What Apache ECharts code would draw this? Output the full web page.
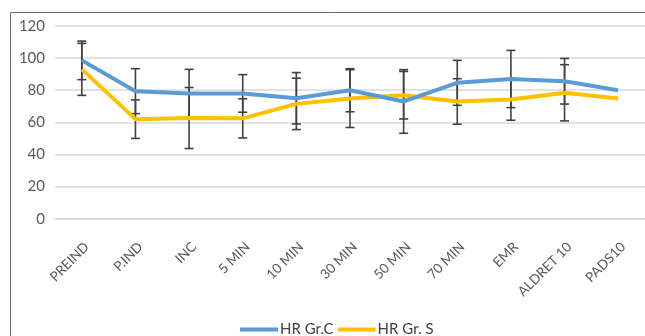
<!DOCTYPE html>
<html><head><meta charset="utf-8">
<script src="https://cdn.jsdelivr.net/npm/echarts@6/dist/echarts.min.js"></script>
<style>html,body{margin:0;padding:0;background:#fff}#c{width:645px;height:336px}</style>
</head><body><div id="c"></div>
<script>
const categories = ['PREIND','P.IND','INC','5 MIN','10 MIN','30 MIN','50 MIN','70 MIN','EMR','ALDRET 10','PADS10'];
const hrC = [98.6, 79.4, 78, 78, 75, 80, 73, 84.6, 87, 85.6, 80];
const hrCsd = [12, 14, 15, 11.7, 16, 13.4, 19.8, 14, 17.8, 14.2, null];
const hrS = [93, 62, 62.7, 62.5, 71.5, 74.8, 76.9, 73, 74.2, 78.4, 74.8];
const hrSsd = [16.2, 12, 19, 12.2, 16, 18, 14.8, 14.2, 12.9, 17.5, null];
const yTicks = [0, 20, 40, 60, 80, 100, 120];

const font = 'Lato, Open Sans, sans-serif';
function errData(mean, sd){
  return mean.map((m,i)=> sd[i]==null ? null : [i, m - sd[i], m + sd[i]]).filter(d=>d);
}
function errSeries(mean, sd){
  return {
    type:'custom', z:1, silent:true,
    data: errData(mean, sd),
    renderItem: function(params, api){
      const x = api.value(0);
      const lo = api.coord([x, api.value(1)]);
      const hi = api.coord([x, api.value(2)]);
      const hw = 4.5;
      const st = {stroke:'#404040', lineWidth:1.6};
      return {type:'group', children:[
        {type:'line', shape:{x1:lo[0],y1:lo[1],x2:hi[0],y2:hi[1]}, style:st},
        {type:'line', shape:{x1:lo[0]-hw,y1:lo[1],x2:lo[0]+hw,y2:lo[1]}, style:st},
        {type:'line', shape:{x1:hi[0]-hw,y1:hi[1],x2:hi[0]+hw,y2:hi[1]}, style:st}
      ]};
    }
  };
}
const chart = echarts.init(document.getElementById('c'));
chart.setOption({
  animation:false,
  textStyle:{fontFamily:font},
  graphic:[{type:'rect', shape:{x:10.5,y:12.5,width:700,height:400}, style:{fill:'none', stroke:'#6b6b6b', lineWidth:1}, z:-1}],
  grid:{left:55, top:26, width:591, height:192.7, containLabel:false},
  legend:{
    top:317, left:235, itemWidth:38, itemHeight:4, itemGap:4, icon:'rect',
    textStyle:{color:'#404040', fontSize:15, fontFamily:font, padding:[0,0,0,-3]},
    data:['HR Gr.C','HR Gr. S']
  },
  xAxis:{
    type:'category', data:categories, boundaryGap:true,
    axisLine:{lineStyle:{color:'#d9d9d9', width:1.5}},
    axisTick:{show:false},
    axisLabel:{rotate:45, color:'#595959', fontSize:13.5, margin:21, interval:0, fontFamily:font, verticalAlign:'top'}
  },
  yAxis:{
    type:'value', min:0, max:120, interval:20,
    axisLine:{show:false}, axisTick:{show:false},
    splitLine:{lineStyle:{color:'#d9d9d9', width:1.5}},
    axisLabel:{color:'#595959', fontSize:15, margin:10, fontFamily:font,
      customValues: yTicks}
  },
  series:[
    errSeries(hrC, hrCsd),
    errSeries(hrS, hrSsd),
    {name:'HR Gr.C', type:'line', data:hrC, z:3, symbol:'none', lineStyle:{color:'#5b9bd5', width:4}, itemStyle:{color:'#5b9bd5'}},
    {name:'HR Gr. S', type:'line', data:hrS, z:2, symbol:'none', lineStyle:{color:'#ffc000', width:4}, itemStyle:{color:'#ffc000'}}
  ]
});
</script></body></html>
